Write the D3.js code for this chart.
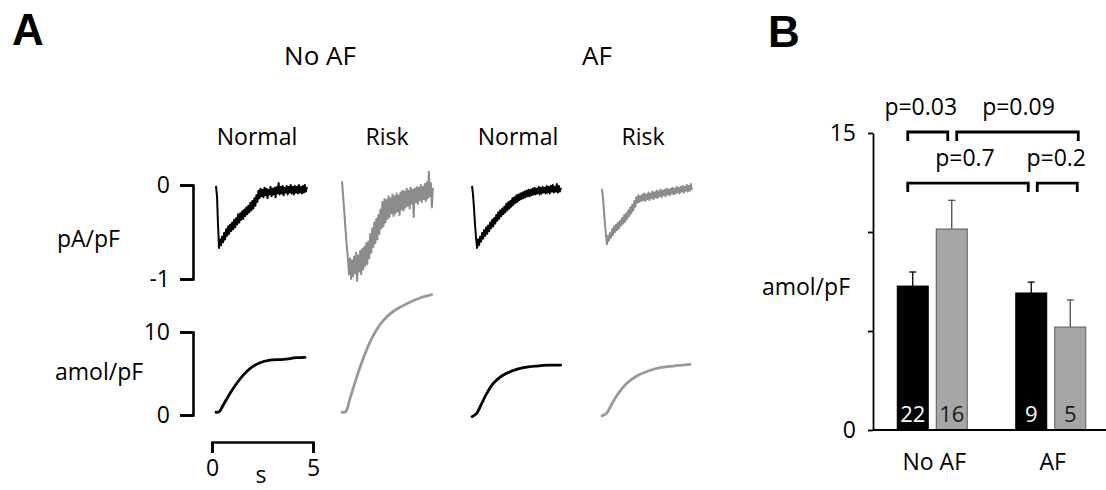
<!DOCTYPE html>
<html>
<head>
<meta charset="utf-8">
<script src="https://cdn.jsdelivr.net/npm/d3@7"></script>
<style>
  html, body { margin: 0; padding: 0; background: #fff; }
  svg { display: block; font-family: 'Open Sans', sans-serif; }
</style>
</head>
<body>
<svg id="fig" width="1106" height="490"></svg>
<script>
// ---------------- Panel A: example recordings ----------------
// Membrane current (pA/pF), one sample every 50 ms
const sampleInterval = 0.05;
const currentNoAFNormal = [
  -0.01,-0.12,-0.42,-0.67,-0.58,-0.64,-0.55,-0.61,-0.51,-0.58,
  -0.47,-0.54,-0.44,-0.52,-0.42,-0.49,-0.40,-0.47,-0.37,-0.45,
  -0.35,-0.42,-0.31,-0.40,-0.30,-0.37,-0.28,-0.36,-0.26,-0.33,
  -0.24,-0.31,-0.22,-0.29,-0.19,-0.27,-0.17,-0.25,-0.14,-0.22,
  -0.11,-0.18,-0.06,-0.14,-0.04,-0.12,-0.05,-0.13,-0.03,-0.11,
  -0.04,-0.14,-0.05,-0.10,-0.02,-0.12,-0.04,-0.10,-0.03,-0.13,
  -0.02,-0.09, 0.02,-0.10,-0.02,-0.09,-0.01,-0.11,-0.03,-0.08,
  -0.01,-0.10,-0.02,-0.08, 0.00,-0.09,-0.02,-0.10,-0.01,-0.08,
  -0.02,-0.09, 0.00,-0.08,-0.02,-0.09,-0.01,-0.08, 0.00,-0.07,
  -0.02
];
const currentNoAFRisk = [
   0.04,-0.10,-0.25,-0.40,-0.55,-0.68,-0.80,-0.95,-0.78,-1.00,
  -0.80,-0.97,-0.76,-0.94,-0.72,-1.02,-0.75,-0.92,-0.70,-0.95,
  -0.68,-0.90,-0.66,-0.86,-0.62,-0.84,-0.60,-0.78,-0.52,-0.72,
  -0.46,-0.66,-0.40,-0.62,-0.36,-0.58,-0.32,-0.52,-0.26,-0.46,
  -0.18,-0.44,-0.15,-0.40,-0.16,-0.36,-0.12,-0.34,-0.14,-0.30,
  -0.10,-0.33,-0.12,-0.30,-0.09,-0.28,-0.11,-0.32,-0.08,-0.26,
  -0.06,-0.27,-0.07,-0.24,-0.04,-0.22,-0.06,-0.25,-0.03,-0.20,
  -0.05,-0.34,-0.04,-0.18,-0.02,-0.20,-0.03,-0.16, 0.00,-0.18,
  -0.02,-0.15, 0.01,-0.17, 0.03,-0.14, 0.14,-0.12, 0.02,-0.24,
  -0.03
];
const currentAFNormal = [
  -0.01,-0.10,-0.25,-0.42,-0.56,-0.67,-0.58,-0.64,-0.55,-0.60,
  -0.51,-0.57,-0.48,-0.54,-0.45,-0.52,-0.43,-0.49,-0.40,-0.46,
  -0.37,-0.44,-0.35,-0.41,-0.32,-0.38,-0.29,-0.36,-0.27,-0.33,
  -0.25,-0.31,-0.23,-0.29,-0.20,-0.27,-0.18,-0.25,-0.17,-0.23,
  -0.14,-0.21,-0.13,-0.19,-0.11,-0.18,-0.10,-0.16,-0.09,-0.15,
  -0.08,-0.14,-0.07,-0.13,-0.06,-0.12,-0.05,-0.12,-0.05,-0.11,
  -0.04,-0.10,-0.03,-0.10,-0.04,-0.09,-0.02,-0.10,-0.03,-0.09,
  -0.02,-0.08,-0.03,-0.09,-0.01,-0.08,-0.02,-0.09,-0.01,-0.07,
   0.00,-0.08,-0.02,-0.07, 0.01,-0.08,-0.01,-0.07,-0.03
];
const currentAFRisk = [
  -0.04,-0.14,-0.28,-0.42,-0.54,-0.63,-0.54,-0.59,-0.51,-0.56,
  -0.47,-0.53,-0.44,-0.50,-0.42,-0.48,-0.40,-0.46,-0.38,-0.43,
  -0.35,-0.41,-0.32,-0.39,-0.30,-0.36,-0.27,-0.33,-0.24,-0.30,
  -0.21,-0.27,-0.17,-0.23,-0.13,-0.19,-0.11,-0.18,-0.12,-0.17,
  -0.10,-0.16,-0.09,-0.17,-0.10,-0.15,-0.08,-0.16,-0.09,-0.14,
  -0.07,-0.15,-0.08,-0.13,-0.06,-0.14,-0.07,-0.12,-0.05,-0.13,
  -0.06,-0.11,-0.05,-0.12,-0.04,-0.10,-0.05,-0.11,-0.04,-0.09,
  -0.03,-0.10,-0.04,-0.09,-0.02,-0.08,-0.03,-0.09,-0.02,-0.07,
  -0.01,-0.08,-0.02,-0.06, 0.00,-0.07,-0.01,-0.06, 0.01,-0.05
];

// Integrated charge (amol/pF) as [time s, value]
const chargeNoAFNormal = [
  [0,0.33],[0.16,0.40],[0.36,1.2],[0.69,2.6],[1.02,3.8],[1.35,4.8],
  [1.68,5.6],[2.18,6.3],[2.67,6.6],[3.33,6.7],[3.99,6.9],[4.41,6.95]
];
const chargeNoAFRisk = [
  [0,0.33],[0.18,0.40],[0.40,2.0],[0.73,4.6],[1.05,6.8],[1.39,8.8],
  [1.72,10.3],[2.05,11.4],[2.54,12.5],[3.20,13.4],[3.86,14.1],[4.44,14.5]
];
const chargeAFNormal = [
  [0,-0.2],[0.23,0.2],[0.48,1.4],[0.73,2.6],[1.05,3.8],[1.47,4.7],
  [1.97,5.3],[2.54,5.7],[3.20,5.9],[3.86,6.0],[4.39,6.0]
];
const chargeAFRisk = [
  [0,-0.1],[0.23,0.2],[0.48,1.3],[0.81,2.6],[1.22,3.8],[1.72,4.7],
  [2.29,5.3],[2.87,5.7],[3.53,5.9],[4.36,6.1]
];

const groupTitles = ["No AF", "AF"];
const conditionTitles = ["Normal", "Risk", "Normal", "Risk"];
const currentTicks = [0, -1];
const chargeTicks = [0, 10];
const timeTicks = [0, 5];

// ---------------- Panel B: summary bars ----------------
const groups = ["No AF", "AF"];
const conditions = ["Normal", "Risk"];
const meanNormal = [7.27, 6.92];
const meanRisk = [10.15, 5.2];
const semNormal = [0.71, 0.55];
const semRisk = [1.45, 1.37];
const nNormal = [22, 9];
const nRisk = [16, 5];
const barTicks = [0, 5, 10, 15];
const barTickLabels = ["0", "", "", "15"];
// comparisons between bars (index order: NoAF-Normal, NoAF-Risk, AF-Normal, AF-Risk)
const compPairs = [[0, 1], [1, 3], [0, 2], [2, 3]];
const compLabels = ["p=0.03", "p=0.09", "p=0.7", "p=0.2"];

// ---------------- drawing ----------------
const svg = d3.select("#fig");
const BLACK = "#000", GREY_TRACE = "#8c8c8c", GREY_CHARGE = "#999", GREY_BAR = "#a6a6a6";

// panel letters
svg.append("text").attr("x", 12).attr("y", 45)
  .style("font-family", "'Liberation Sans', Arial, sans-serif")
  .style("font-weight", "bold").style("font-size", "44px").text("A");
svg.append("text").attr("x", 768).attr("y", 47)
  .style("font-family", "'Liberation Sans', Arial, sans-serif")
  .style("font-weight", "bold").style("font-size", "44px").text("B");

// ---- Panel A ----
const colX = [216, 342, 472, 602];              // left edge of each recording column
const xTime = d3.scaleLinear().domain([0, 5]).range([0, 101]);
const yCur = d3.scaleLinear().domain([-1, 0]).range([279, 185]);
const yQ = d3.scaleLinear().domain([0, 10]).range([415, 332]);

const currents = [currentNoAFNormal, currentNoAFRisk, currentAFNormal, currentAFRisk];
const charges = [chargeNoAFNormal, chargeNoAFRisk, chargeAFNormal, chargeAFRisk];
const traceColour = [BLACK, GREY_TRACE, BLACK, GREY_TRACE];
const chargeColour = [BLACK, GREY_CHARGE, BLACK, GREY_CHARGE];

svg.append("text").attr("x", 320).attr("y", 65).attr("text-anchor", "middle")
  .style("font-size", "26px").text(groupTitles[0]);
svg.append("text").attr("x", 597).attr("y", 65).attr("text-anchor", "middle")
  .style("font-size", "26px").text(groupTitles[1]);

const labelX = [257, 387, 518, 643];
conditionTitles.forEach((t, i) => {
  svg.append("text").attr("x", labelX[i]).attr("y", 145).attr("text-anchor", "middle")
    .style("font-size", "23px").text(t);
});

currents.forEach((arr, k) => {
  const line = d3.line()
    .x((d, i) => colX[k] + xTime(i * sampleInterval))
    .y(d => yCur(d));
  svg.append("path").datum(arr).attr("d", line)
    .attr("fill", "none").attr("stroke", traceColour[k])
    .attr("stroke-width", 2).attr("stroke-linejoin", "round");
});

charges.forEach((arr, k) => {
  const line = d3.line().curve(d3.curveCatmullRom.alpha(0.5))
    .x(d => colX[k] + xTime(d[0]))
    .y(d => yQ(d[1]));
  svg.append("path").datum(arr).attr("d", line)
    .attr("fill", "none").attr("stroke", chargeColour[k])
    .attr("stroke-width", 2.8).attr("stroke-linecap", "round").attr("stroke-linejoin", "round");
});

function styleAxis(g, fontSize) {
  g.select(".domain").attr("stroke", BLACK).attr("stroke-width", 2.6);
  g.selectAll(".tick line").attr("stroke", BLACK).attr("stroke-width", 2.6);
  g.selectAll(".tick text").style("font-size", fontSize).style("font-family", "'Open Sans', sans-serif").attr("fill", BLACK);
}

const curAxis = svg.append("g").attr("transform", "translate(193,0)")
  .call(d3.axisLeft(yCur).tickValues(currentTicks).tickFormat(d3.format("d"))
    .tickSizeInner(13).tickSizeOuter(13).tickPadding(10));
styleAxis(curAxis, "23px");
curAxis.selectAll(".tick text").text(d => d === -1 ? "-1" : d);

const qAxis = svg.append("g").attr("transform", "translate(193,0)")
  .call(d3.axisLeft(yQ).tickValues(chargeTicks).tickFormat(d3.format("d"))
    .tickSizeInner(13).tickSizeOuter(13).tickPadding(10));
styleAxis(qAxis, "23px");

const tAxis = svg.append("g").attr("transform", "translate(212,442)")
  .call(d3.axisBottom(xTime).tickValues(timeTicks).tickFormat(d3.format("d"))
    .tickSizeInner(11).tickSizeOuter(11).tickPadding(7));
styleAxis(tAxis, "23px");

svg.append("text").attr("x", 261).attr("y", 483).attr("text-anchor", "middle")
  .style("font-size", "23px").text("s");
svg.append("text").attr("x", 57).attr("y", 247)
  .style("font-size", "23px").text("pA/pF");
svg.append("text").attr("x", 55).attr("y", 380)
  .style("font-size", "23px").text("amol/pF");

// ---- Panel B ----
const yB = d3.scaleLinear().domain([0, 15]).range([430, 133]);
const xGroup = d3.scaleBand().domain(groups).range([873, 1110]);
const xCond = d3.scaleBand().domain(conditions).range([24.25, 94.25]).paddingInner(0.205);

const bars = [];
groups.forEach((g, gi) => {
  bars.push({ group: g, cond: "Normal", mean: meanNormal[gi], sem: semNormal[gi], n: nNormal[gi] });
  bars.push({ group: g, cond: "Risk", mean: meanRisk[gi], sem: semRisk[gi], n: nRisk[gi] });
});
// order: NoAF-Normal, NoAF-Risk, AF-Normal, AF-Risk
const barLeft = d => xGroup(d.group) + xCond(d.cond);
const barCentre = d => barLeft(d) + xCond.bandwidth() / 2;

const bAxis = svg.append("g").attr("transform", "translate(873,0)")
  .call(d3.axisLeft(yB).tickValues(barTicks).tickFormat((d, i) => barTickLabels[i])
    .tickSizeInner(5).tickSizeOuter(0).tickPadding(12));
bAxis.select(".domain").attr("stroke", BLACK).attr("stroke-width", 1.8);
bAxis.selectAll(".tick line").attr("stroke", BLACK).attr("stroke-width", 1.8);
bAxis.selectAll(".tick text").style("font-size", "23px").style("font-family", "'Open Sans', sans-serif").attr("fill", BLACK);

// error bars (upper only)
bars.forEach(d => {
  const c = barCentre(d);
  const col = d.cond === "Normal" ? BLACK : "#4d4d4d";
  svg.append("line").attr("x1", c).attr("x2", c)
    .attr("y1", yB(d.mean)).attr("y2", yB(d.mean + d.sem))
    .attr("stroke", col).attr("stroke-width", 1.3);
  svg.append("line").attr("x1", c - 3.5).attr("x2", c + 3.5)
    .attr("y1", yB(d.mean + d.sem)).attr("y2", yB(d.mean + d.sem))
    .attr("stroke", col).attr("stroke-width", 1.3);
});

svg.selectAll("rect.bar").data(bars).enter().append("rect")
  .attr("class", "bar")
  .attr("x", d => barLeft(d))
  .attr("width", xCond.bandwidth())
  .attr("y", d => yB(d.mean))
  .attr("height", d => yB(0) - yB(d.mean))
  .attr("fill", d => d.cond === "Normal" ? BLACK : GREY_BAR)
  .attr("stroke", d => d.cond === "Normal" ? BLACK : "#5a5a5a")
  .attr("stroke-width", 1);

// baseline
svg.append("line").attr("x1", 873).attr("x2", 1106)
  .attr("y1", yB(0)).attr("y2", yB(0))
  .attr("stroke", BLACK).attr("stroke-width", 2);

// n inside bars
svg.selectAll("text.n").data(bars).enter().append("text")
  .attr("class", "n")
  .attr("x", d => barCentre(d)).attr("y", 422)
  .attr("text-anchor", "middle")
  .style("font-size", "22px")
  .attr("fill", d => d.cond === "Normal" ? "#fff" : "#1a1a1a")
  .text(d => d.n);

// group labels
groups.forEach(g => {
  svg.append("text").attr("x", xGroup(g) + xGroup.bandwidth() / 2 + 2).attr("y", 470)
    .attr("text-anchor", "middle").style("font-size", "23px").text(g);
});

svg.append("text").attr("x", 850).attr("y", 295).attr("text-anchor", "end")
  .style("font-size", "23px").text("amol/pF");

// significance brackets
const rowLevel = [15.05, 12.47];
const compRow = [0, 0, 1, 1];
const endOffset = [[-5, -4], [5, 8], [-5, -3], [6, 7]];
const labelShift = [-7, 1, -3, -1];
compPairs.forEach((p, i) => {
  const x1 = barCentre(bars[p[0]]) + endOffset[i][0];
  const x2 = barCentre(bars[p[1]]) + endOffset[i][1];
  const y = yB(rowLevel[compRow[i]]);
  svg.append("path")
    .attr("d", `M${x1},${y + 9}V${y}H${x2}V${y + 9}`)
    .attr("fill", "none").attr("stroke", BLACK).attr("stroke-width", 2.8);
  svg.append("text").attr("x", (x1 + x2) / 2 + labelShift[i]).attr("y", y - 17)
    .attr("text-anchor", "middle").style("font-size", "23px").text(compLabels[i]);
});
</script>
</body>
</html>
